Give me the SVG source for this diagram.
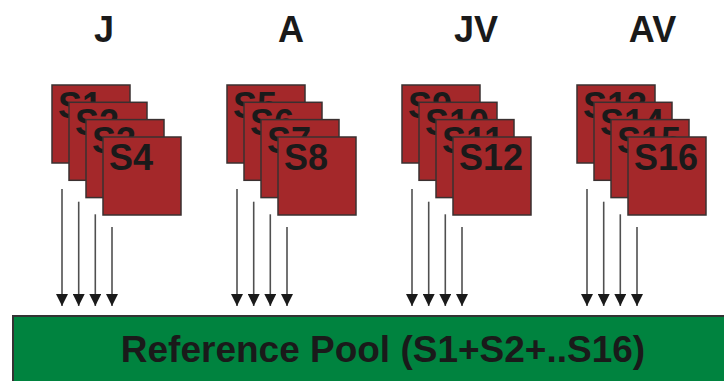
<svg xmlns="http://www.w3.org/2000/svg" width="724" height="381" viewBox="0 0 724 381">
<style>
.hdr{font-family:"Liberation Sans",Arial,sans-serif;font-weight:bold;font-size:36px;fill:#1a1a1a;text-anchor:middle}
.sq{fill:#A4282A;stroke:#3a3030;stroke-width:1.5}
.sl{font-family:"Liberation Sans",Arial,sans-serif;font-weight:bold;font-size:36px;fill:#1a1a1a}
.ar{stroke:#505050;stroke-width:1.6;fill:none;marker-end:url(#ah)}
.pool{fill:#00833F;stroke:#333;stroke-width:2}
.pt{font-family:"Liberation Sans",Arial,sans-serif;font-weight:bold;font-size:37px;fill:#1a1a1a;text-anchor:middle}
</style>
<defs>
<marker id="ah" markerUnits="userSpaceOnUse" markerWidth="12" markerHeight="12" viewBox="0 0 12 12" refX="12" refY="6" orient="auto">
<path d="M0,0 L12,6 L0,12 Z" fill="#1a1a1a"/>
</marker>
</defs>
<rect width="724" height="381" fill="#ffffff"/>
<g id="headers">
<text class="hdr" x="104" y="42">J</text>
<text class="hdr" x="291" y="42">A</text>
<text class="hdr" x="476" y="42">JV</text>
<text class="hdr" x="652.5" y="42">AV</text>
</g>
<g id="group-J">
<g id="s1"><rect class="sq" x="52" y="85" width="78" height="78"/><text class="sl" x="58" y="118">S1</text></g>
<g id="s2"><rect class="sq" x="69" y="102.3" width="78" height="78"/><text class="sl" x="75" y="135.3">S2</text></g>
<g id="s3"><rect class="sq" x="86" y="119.6" width="78" height="78"/><text class="sl" x="92" y="152.6">S3</text></g>
<g id="s4"><rect class="sq" x="103" y="137" width="78" height="78"/><text class="sl" x="109" y="170">S4</text></g>
</g>
<g id="group-A">
<g id="s5"><rect class="sq" x="227" y="85" width="78" height="78"/><text class="sl" x="233" y="118">S5</text></g>
<g id="s6"><rect class="sq" x="244" y="102.3" width="78" height="78"/><text class="sl" x="250" y="135.3">S6</text></g>
<g id="s7"><rect class="sq" x="261" y="119.6" width="78" height="78"/><text class="sl" x="267" y="152.6">S7</text></g>
<g id="s8"><rect class="sq" x="278" y="137" width="78" height="78"/><text class="sl" x="284" y="170">S8</text></g>
</g>
<g id="group-JV">
<g id="s9"><rect class="sq" x="402" y="85" width="78" height="78"/><text class="sl" x="408" y="118">S9</text></g>
<g id="s10"><rect class="sq" x="419" y="102.3" width="78" height="78"/><text class="sl" x="425" y="135.3">S10</text></g>
<g id="s11"><rect class="sq" x="436" y="119.6" width="78" height="78"/><text class="sl" x="442" y="152.6">S11</text></g>
<g id="s12"><rect class="sq" x="453" y="137" width="78" height="78"/><text class="sl" x="459" y="170">S12</text></g>
</g>
<g id="group-AV">
<g id="s13"><rect class="sq" x="577" y="85" width="78" height="78"/><text class="sl" x="583" y="118">S13</text></g>
<g id="s14"><rect class="sq" x="594" y="102.3" width="78" height="78"/><text class="sl" x="600" y="135.3">S14</text></g>
<g id="s15"><rect class="sq" x="611" y="119.6" width="78" height="78"/><text class="sl" x="617" y="152.6">S15</text></g>
<g id="s16"><rect class="sq" x="628" y="137" width="78" height="78"/><text class="sl" x="634" y="170">S16</text></g>
</g>
<g id="connectors">
<line class="ar" x1="62" y1="189" x2="62" y2="306"/>
<line class="ar" x1="78.7" y1="201.7" x2="78.7" y2="306"/>
<line class="ar" x1="95.3" y1="214.3" x2="95.3" y2="306"/>
<line class="ar" x1="112" y1="227" x2="112" y2="306"/>
<line class="ar" x1="237" y1="189" x2="237" y2="306"/>
<line class="ar" x1="253.7" y1="201.7" x2="253.7" y2="306"/>
<line class="ar" x1="270.3" y1="214.3" x2="270.3" y2="306"/>
<line class="ar" x1="287" y1="227" x2="287" y2="306"/>
<line class="ar" x1="412" y1="189" x2="412" y2="306"/>
<line class="ar" x1="428.7" y1="201.7" x2="428.7" y2="306"/>
<line class="ar" x1="445.3" y1="214.3" x2="445.3" y2="306"/>
<line class="ar" x1="462" y1="227" x2="462" y2="306"/>
<line class="ar" x1="587" y1="189" x2="587" y2="306"/>
<line class="ar" x1="603.7" y1="201.7" x2="603.7" y2="306"/>
<line class="ar" x1="620.3" y1="214.3" x2="620.3" y2="306"/>
<line class="ar" x1="637" y1="227" x2="637" y2="306"/>
</g>
<g id="pool">
<rect class="pool" x="13" y="316" width="720" height="80"/>
<text class="pt" x="383" y="362">Reference Pool (S1+S2+..S16)</text>
</g>
</svg>
